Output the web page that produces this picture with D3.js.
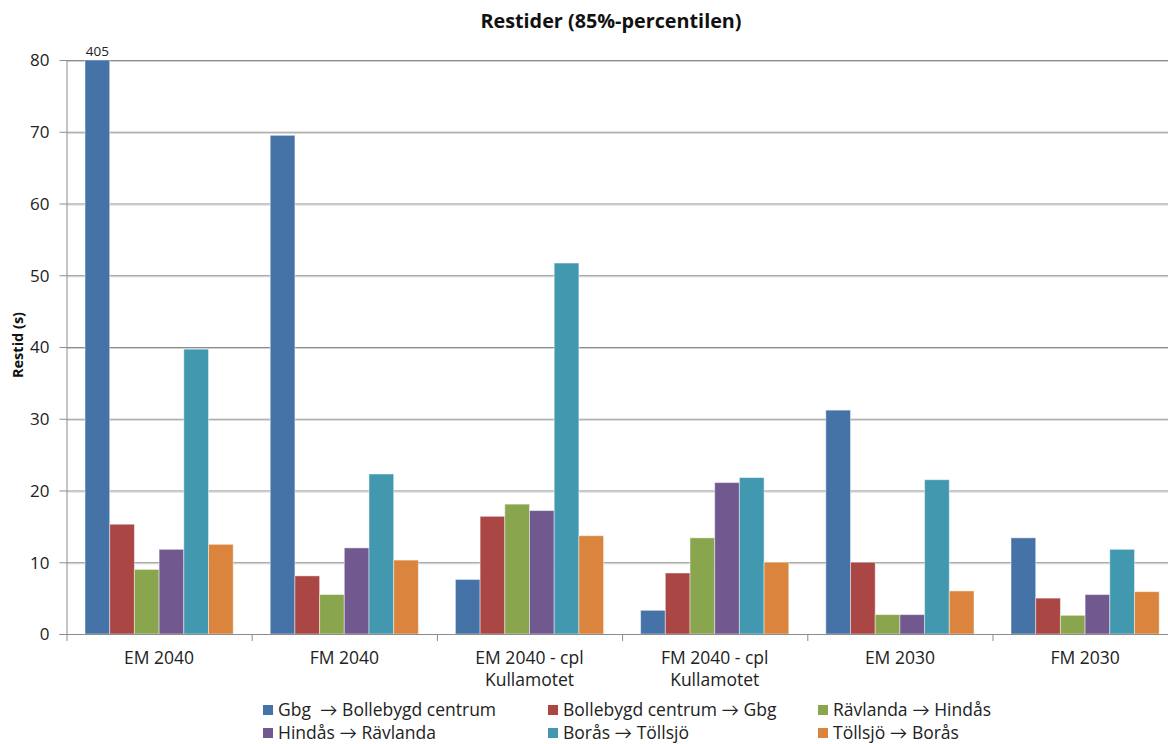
<!DOCTYPE html>
<html>
<head>
<meta charset="utf-8">
<script src="https://cdn.jsdelivr.net/npm/d3@7"></script>
<style>
  html, body { margin: 0; padding: 0; background: #fff; }
  svg { display: block; font-family: "Open Sans", "Noto Sans", sans-serif; }
</style>
</head>
<body>
<svg id="chart" width="1168" height="744"></svg>
<script>
// Scenarios along the x axis (lines split where the label wraps)
const categories = ["EM 2040", "FM 2040", "EM 2040 - cpl Kullamotet", "FM 2040 - cpl Kullamotet", "EM 2030", "FM 2030"];
const categoryLines = [["EM 2040"], ["FM 2040"], ["EM 2040 - cpl", "Kullamotet"], ["FM 2040 - cpl", "Kullamotet"], ["EM 2030"], ["FM 2030"]];

// Route series (legend order)
const seriesNames = [
  "Gbg\u00a0 \u2192 Bollebygd centrum",
  "Bollebygd centrum \u2192 Gbg",
  "R\u00e4vlanda \u2192 Hind\u00e5s",
  "Hind\u00e5s \u2192 R\u00e4vlanda",
  "Bor\u00e5s \u2192 T\u00f6llsj\u00f6",
  "T\u00f6llsj\u00f6 \u2192 Bor\u00e5s"
];
const seriesColors = ["#4572A7", "#AA4643", "#89A54E", "#71588F", "#4198AF", "#DB843D"];

// Travel times (s) per series, one value per scenario
const gbgBollebygd   = [405, 69.5, 7.6, 3.3, 31.2, 13.4];
const bollebygdGbg   = [15.3, 8.1, 16.4, 8.5, 10.0, 5.0];
const ravlandaHindas = [9.0, 5.5, 18.1, 13.4, 2.7, 2.6];
const hindasRavlanda = [11.8, 12.0, 17.2, 21.1, 2.7, 5.5];
const borasTollsjo   = [39.7, 22.3, 51.7, 21.8, 21.5, 11.8];
const tollsjoBoras   = [12.5, 10.3, 13.7, 10.0, 6.0, 5.9];
const seriesValues = [gbgBollebygd, bollebygdGbg, ravlandaHindas, hindasRavlanda, borasTollsjo, tollsjoBoras];

const yTicks = [0, 10, 20, 30, 40, 50, 60, 70, 80];
const yMax = 80;

const svg = d3.select("#chart");

const plot = { left: 66.5, right: 1177.7, top: 60, bottom: 634 };

const x0 = d3.scaleBand().domain(categories).range([plot.left, plot.right]).paddingInner(0).paddingOuter(0);
const x1 = d3.scaleBand().domain(d3.range(seriesNames.length)).range([0, x0.bandwidth()]).paddingInner(0).paddingOuter(0.75);
const y = d3.scaleLinear().domain([0, yMax]).range([plot.bottom, plot.top]).clamp(true);

// Horizontal gridlines
const grid = svg.append("g");
yTicks.filter(t => t > 0).forEach(t => {
  grid.append("line")
    .attr("x1", plot.left).attr("x2", plot.right)
    .attr("y1", y(t) + 0.5).attr("y2", y(t) + 0.5)
    .attr("stroke", "#8c8c8c").attr("stroke-width", 1);
  grid.append("line")
    .attr("x1", plot.left).attr("x2", plot.right)
    .attr("y1", y(t) + 1.5).attr("y2", y(t) + 1.5)
    .attr("stroke", "#d0d0d0").attr("stroke-width", 1);
});

// Bars
const groups = svg.append("g").selectAll("g")
  .data(categories)
  .join("g")
  .attr("transform", d => `translate(${x0(d)},0)`);

groups.selectAll("rect")
  .data((c, ci) => seriesValues.map((vals, si) => ({ si, v: vals[ci] })))
  .join("rect")
  .attr("x", d => x1(d.si))
  .attr("width", x1.bandwidth())
  .attr("y", d => y(d.v))
  .attr("height", d => y(0) - y(d.v))
  .attr("fill", d => seriesColors[d.si])
  .attr("stroke", "rgba(255,255,255,0.45)")
  .attr("stroke-width", 1);

// Value label for the bar that exceeds the axis maximum
seriesValues.forEach((vals, si) => {
  vals.forEach((v, ci) => {
    if (v > yMax) {
      svg.append("text")
        .attr("x", x0(categories[ci]) + x1(si) + x1.bandwidth() / 2)
        .attr("y", y(v) - 4)
        .attr("text-anchor", "middle")
        .attr("font-size", 13.5)
        .attr("fill", "#222")
        .text(d3.format("d")(v));
    }
  });
});

// Y axis
const yAxis = svg.append("g")
  .attr("transform", `translate(${plot.left},0)`)
  .call(d3.axisLeft(y).tickValues(yTicks).tickSize(7).tickPadding(10).tickFormat(d3.format("d")));
yAxis.select(".domain").attr("stroke", "#8c8c8c").attr("d", `M0.5,${plot.top}V${plot.bottom}`);
yAxis.selectAll(".tick line").attr("stroke", "#8c8c8c");
yAxis.selectAll(".tick text").attr("font-size", 17).attr("fill", "#222").attr("dy", "0.35em").attr("font-family", "Open Sans, sans-serif");

// X axis line with tick marks at category boundaries
const xAxisG = svg.append("g");
xAxisG.append("line")
  .attr("x1", plot.left - 7).attr("x2", plot.right)
  .attr("y1", plot.bottom + 0.5).attr("y2", plot.bottom + 0.5)
  .attr("stroke", "#8c8c8c");
categories.concat([null]).forEach((c, i) => {
  const xb = c ? x0(c) : plot.right;
  xAxisG.append("line")
    .attr("x1", xb + 0.5).attr("x2", xb + 0.5)
    .attr("y1", plot.bottom).attr("y2", plot.bottom + 7)
    .attr("stroke", "#8c8c8c");
});
categories.forEach((c, i) => {
  const t = xAxisG.append("text")
    .attr("x", x0(c) + x0.bandwidth() / 2)
    .attr("y", 664)
    .attr("text-anchor", "middle")
    .attr("font-size", 17.5)
    .attr("fill", "#222");
  categoryLines[i].forEach((line, li) => {
    t.append("tspan").attr("x", x0(c) + x0.bandwidth() / 2).attr("dy", li === 0 ? 0 : 22).text(line);
  });
});

// Y axis title
svg.append("text")
  .attr("transform", "translate(23,345) rotate(-90)")
  .attr("text-anchor", "middle")
  .attr("font-size", 14.5)
  .attr("font-weight", "bold")
  .attr("fill", "#111")
  .text("Restid (s)");

// Chart title
svg.append("text")
  .attr("x", 611)
  .attr("y", 28)
  .attr("text-anchor", "middle")
  .attr("font-size", 19.8)
  .attr("font-weight", "bold")
  .attr("fill", "#111")
  .text("Restider (85%-percentilen)");

// Legend: two rows of three; the arrow is set in Lato for a full-width glyph
const legendCols = [263, 548, 818];
const legendRows = [716, 739];
seriesNames.forEach((name, i) => {
  const col = i % 3, row = Math.floor(i / 3);
  const g = svg.append("g").attr("transform", `translate(${legendCols[col]},${legendRows[row]})`);
  g.append("rect").attr("x", 0).attr("y", -11).attr("width", 10).attr("height", 10).attr("fill", seriesColors[i]);
  const t = g.append("text").attr("x", 15).attr("y", 0).attr("font-size", 17.5).attr("fill", "#222");
  const parts = name.split("\u2192");
  t.append("tspan").text(parts[0]);
  t.append("tspan").attr("font-family", "Lato, sans-serif").text("\u2192");
  t.append("tspan").text(parts[1]);
});
</script>
</body>
</html>
